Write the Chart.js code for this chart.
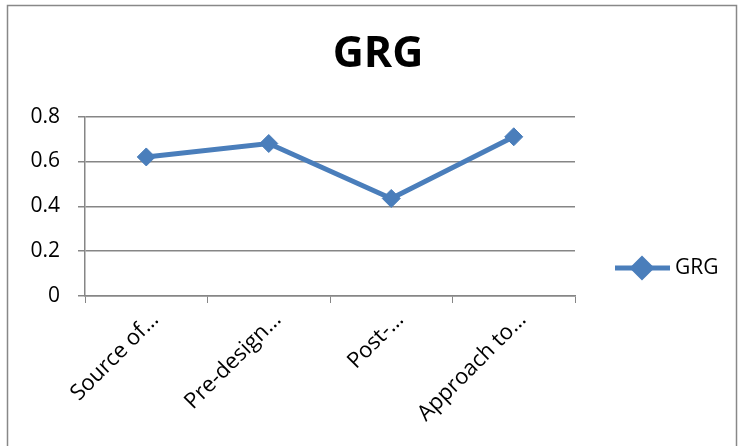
<!DOCTYPE html>
<html>
<head>
<meta charset="utf-8">
<script src="https://cdn.jsdelivr.net/npm/chart.js@4.4.0/dist/chart.umd.min.js"></script>
<style>
  html, body { margin: 0; padding: 0; background: #fff; }
  #wrap { width: 738px; height: 446px; }
</style>
</head>
<body>
<div id="wrap"><canvas id="lineChart" width="738" height="446"></canvas></div>
<script>
var categories = ['Source of\u2026', 'Pre-design\u2026', 'Post-\u2026', 'Approach to\u2026'];
var grgValues = [0.62, 0.68, 0.435, 0.71];
var yTicks = [0, 0.2, 0.4, 0.6, 0.8];

var lineColor = '#4a7ebb';
var gridColor = '#868686';
var fontFamily = '"Open Sans", Lato, sans-serif';

// outer chart frame like the Excel chart area
var framePlugin = {
    id: 'frame',
    beforeDraw: function (chart) {
        var c = chart.ctx;
        c.save();
        c.fillStyle = '#fff';
        c.fillRect(0, 0, chart.width, chart.height);
        c.strokeStyle = '#888';
        c.lineWidth = 1.5;
        c.strokeRect(7.5, 5.5, chart.width - 9, chart.height + 20);
        c.restore();
    }
};

// Excel style legend: line with a diamond marker, then the label
var excelLegend = {
    id: 'excelLegend',
    afterDraw: function (chart) {
        var c = chart.ctx;
        var ds = chart.data.datasets[0];
        var y = 268;
        c.save();
        c.strokeStyle = ds.borderColor;
        c.lineWidth = 5;
        c.beginPath();
        c.moveTo(615, y);
        c.lineTo(670, y);
        c.stroke();
        Chart.helpers.drawPoint(c, {
            pointStyle: 'rectRot', radius: 9, borderWidth: 1
        }, 642, y);
        c.fillStyle = ds.backgroundColor;
        c.fill();
        c.fillStyle = '#000';
        c.font = '21px ' + fontFamily;
        c.textAlign = 'left';
        c.textBaseline = 'middle';
        c.fillText(ds.label, 675, y);
        c.restore();
    }
};

var ctx = document.getElementById('lineChart').getContext('2d');
var myChart = new Chart(ctx, {
    type: 'line',
    data: {
        labels: categories,
        datasets: [{
            label: 'GRG',
            data: grgValues,
            borderColor: lineColor,
            backgroundColor: lineColor,
            borderWidth: 5,
            pointStyle: 'rectRot',
            pointRadius: 9,
            pointHoverRadius: 9,
            pointBorderWidth: 1,
            tension: 0
        }]
    },
    options: {
        responsive: false,
        animation: false,
        events: [],
        layout: { padding: { left: 18, right: 0, top: 0, bottom: 0 } },
        plugins: {
            legend: { display: false },
            tooltip: { enabled: false },
            title: {
                display: true,
                text: 'GRG',
                color: '#000',
                font: { family: fontFamily, size: 43, weight: 'bold' },
                padding: { top: 29, bottom: 36 }
            }
        },
        scales: {
            x: {
                offset: true,
                grid: {
                    offset: true,
                    drawOnChartArea: false,
                    drawTicks: true,
                    tickLength: 7,
                    color: gridColor
                },
                border: { color: gridColor, width: 1.5 },
                ticks: {
                    color: '#000',
                    font: { family: fontFamily, size: 22 },
                    minRotation: 45,
                    maxRotation: 45,
                    autoSkip: false,
                    labelOffset: 9,
                    padding: 4
                },
                afterFit: function (scale) { scale.height = 150; }
            },
            y: {
                min: 0,
                max: 0.8,
                afterBuildTicks: function (scale) {
                    scale.ticks = yTicks.map(function (v) { return { value: v }; });
                },
                grid: {
                    color: gridColor,
                    lineWidth: 1.5,
                    tickLength: 7
                },
                border: { color: gridColor, width: 1.5 },
                ticks: {
                    color: '#000',
                    font: { family: fontFamily, size: 21 },
                    padding: 18
                },
                afterFit: function (scale) { scale.width = 67; }
            },
            // empty right-hand box that reserves the legend column
            legendSpace: {
                type: 'linear',
                position: 'right',
                display: true,
                grid: { display: false, drawTicks: false },
                border: { display: false },
                ticks: { display: false },
                afterFit: function (scale) { scale.width = 163; }
            }
        }
    },
    plugins: [framePlugin, excelLegend]
});
</script>
</body>
</html>
